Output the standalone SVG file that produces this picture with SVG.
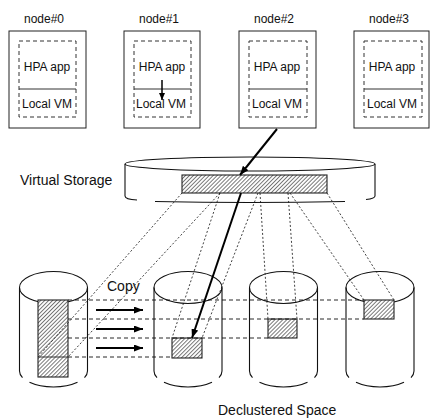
<svg xmlns="http://www.w3.org/2000/svg" width="430" height="419" viewBox="0 0 430 419">
<style>
.box{fill:#fff;stroke:#222;stroke-width:1}
.dash{fill:none;stroke:#333;stroke-width:1;stroke-dasharray:4,3}
.sep{stroke:#333;stroke-width:1}
.lbl{font-family:"Liberation Sans",Arial,sans-serif;font-size:12px;fill:#111;text-anchor:middle}
.big{font-family:"Liberation Sans",Arial,sans-serif;font-size:14px;fill:#111}
.cyl{fill:none;stroke:#111;stroke-width:1.1}
.hat{fill:url(#hatch);stroke:#222;stroke-width:1.1}
.dot{fill:none;stroke:#111;stroke-width:0.8;stroke-dasharray:2,2}
.hd{fill:none;stroke:#111;stroke-width:0.9;stroke-dasharray:4,3}
.bold{fill:none;stroke:#000;stroke-width:2}
</style>
<defs>
<pattern id="hatch" patternUnits="userSpaceOnUse" width="2.8" height="2.8" patternTransform="rotate(45)">
<rect width="2.8" height="2.8" fill="#fff"/>
<line x1="0.5" y1="0" x2="0.5" y2="2.8" stroke="#555" stroke-width="0.8"/>
</pattern>
<marker id="ah" markerUnits="userSpaceOnUse" markerWidth="9" markerHeight="7" refX="9" refY="3.5" orient="auto">
<path d="M0,0 L9,3.5 L0,7 z" fill="#000"/>
</marker>
<marker id="ahs" markerUnits="userSpaceOnUse" markerWidth="7" markerHeight="6" refX="7" refY="3" orient="auto">
<path d="M0,0 L7,3 L0,6 z" fill="#000"/>
</marker>
</defs>

<g id="node0">
<text class="lbl" x="44" y="23">node#0</text>
<rect class="box" x="9" y="31" width="77" height="97"/>
<rect class="dash" x="19" y="41" width="57" height="76"/>
<line class="sep" x1="19" y1="89" x2="76" y2="89"/>
<text class="lbl" x="47" y="71">HPA app</text>
<text class="lbl" x="47" y="108">Local VM</text>
</g>
<g id="node1">
<text class="lbl" x="159" y="23">node#1</text>
<rect class="box" x="124" y="31" width="76" height="97"/>
<rect class="dash" x="134" y="41" width="57" height="76"/>
<line class="sep" x1="134" y1="89" x2="191" y2="89"/>
<text class="lbl" x="162" y="71">HPA app</text>
<text class="lbl" x="161" y="108">Local VM</text>
</g>
<g id="node2">
<text class="lbl" x="274" y="23">node#2</text>
<rect class="box" x="239" y="31" width="77" height="97"/>
<rect class="dash" x="249" y="41" width="58" height="76"/>
<line class="sep" x1="249" y1="89" x2="307" y2="89"/>
<text class="lbl" x="277" y="71">HPA app</text>
<text class="lbl" x="277" y="108">Local VM</text>
</g>
<g id="node3">
<text class="lbl" x="389" y="23">node#3</text>
<rect class="box" x="354" y="31" width="75" height="97"/>
<rect class="dash" x="364" y="41" width="58" height="76"/>
<line class="sep" x1="364" y1="89" x2="422" y2="89"/>
<text class="lbl" x="392" y="71">HPA app</text>
<text class="lbl" x="392" y="108">Local VM</text>
</g>

<g id="virtual-storage">
<ellipse class="cyl" cx="250" cy="164" rx="125" ry="7"/>
<path class="cyl" d="M125,164 L125,196 Q125,199.5 137,200"/>
<path class="cyl" d="M375,164 L375,196 Q375,198.5 366,199.5"/>
<path class="cyl" d="M155,201.5 Q250,203.5 345,201.5"/>
<rect class="hat" x="182" y="175" width="145" height="18"/>
<text class="big" x="20" y="185">Virtual Storage</text>
</g>

<g id="disk0">
<ellipse class="cyl" cx="53.5" cy="287.5" rx="34" ry="16"/>
<path class="cyl" d="M19.5,287.5 L19.5,371 A34,16 0 0 0 22.5,377.6 M87.5,287.5 L87.5,371 A34,16 0 0 1 84.5,377.6 M29.5,382.3 A34,16 0 0 0 77.5,382.3"/>
<rect class="hat" x="38" y="300" width="30" height="77"/>
<line class="sep" x1="38" y1="357" x2="68" y2="357" stroke="#222"/>
</g>
<g id="disk1">
<ellipse class="cyl" cx="188" cy="287.5" rx="34" ry="16"/>
<path class="cyl" d="M154,287.5 L154,371 A34,16 0 0 0 157,377.6 M222,287.5 L222,371 A34,16 0 0 1 219,377.6 M164,382.3 A34,16 0 0 0 212,382.3"/>
<rect class="hat" x="172" y="338" width="30" height="20"/>
</g>
<g id="disk2">
<ellipse class="cyl" cx="283.5" cy="287.5" rx="34" ry="16"/>
<path class="cyl" d="M249.5,287.5 L249.5,371 A34,16 0 0 0 252.5,377.6 M317.5,287.5 L317.5,371 A34,16 0 0 1 314.5,377.6 M259.5,382.3 A34,16 0 0 0 307.5,382.3"/>
<rect class="hat" x="268" y="319" width="29" height="19"/>
</g>
<g id="disk3">
<ellipse class="cyl" cx="380" cy="287.5" rx="34" ry="16"/>
<path class="cyl" d="M346,287.5 L346,371 A34,16 0 0 0 349,377.6 M414,287.5 L414,371 A34,16 0 0 1 411,377.6 M356,382.3 A34,16 0 0 0 404,382.3"/>
<rect class="hat" x="364" y="300" width="30" height="19"/>
</g>

<g id="connectors">
<line class="dot" x1="182" y1="193" x2="38" y2="357"/>
<line class="dot" x1="220" y1="193" x2="68" y2="357"/>
<line class="dot" x1="220" y1="193" x2="172" y2="338"/>
<line class="dot" x1="258" y1="193" x2="202" y2="338"/>
<line class="dot" x1="260" y1="193" x2="268" y2="319"/>
<line class="dot" x1="288" y1="193" x2="297" y2="319"/>
<line class="dot" x1="290" y1="193" x2="364" y2="300"/>
<line class="dot" x1="327" y1="193" x2="394" y2="300"/>
<line class="hd" x1="68" y1="300" x2="364" y2="300"/>
<line class="hd" x1="68" y1="319" x2="364" y2="319"/>
<line class="hd" x1="68" y1="338" x2="268" y2="338"/>
<line class="hd" x1="68" y1="357" x2="172" y2="357"/>
<line class="bold" x1="96" y1="310" x2="143" y2="310" marker-end="url(#ah)"/>
<line class="bold" x1="96" y1="329" x2="143" y2="329" marker-end="url(#ah)"/>
<line class="bold" x1="96" y1="348" x2="143" y2="348" marker-end="url(#ah)"/>
<line class="bold" x1="277" y1="129" x2="240" y2="175" marker-end="url(#ah)"/>
<line class="bold" x1="241" y1="193" x2="192" y2="338" marker-end="url(#ah)"/>
<line x1="162" y1="80" x2="162" y2="100" stroke="#000" stroke-width="1.5" marker-end="url(#ahs)"/>
</g>

<text class="big" x="107" y="291">Copy</text>
<text class="big" x="218" y="415">Declustered Space</text>
</svg>
